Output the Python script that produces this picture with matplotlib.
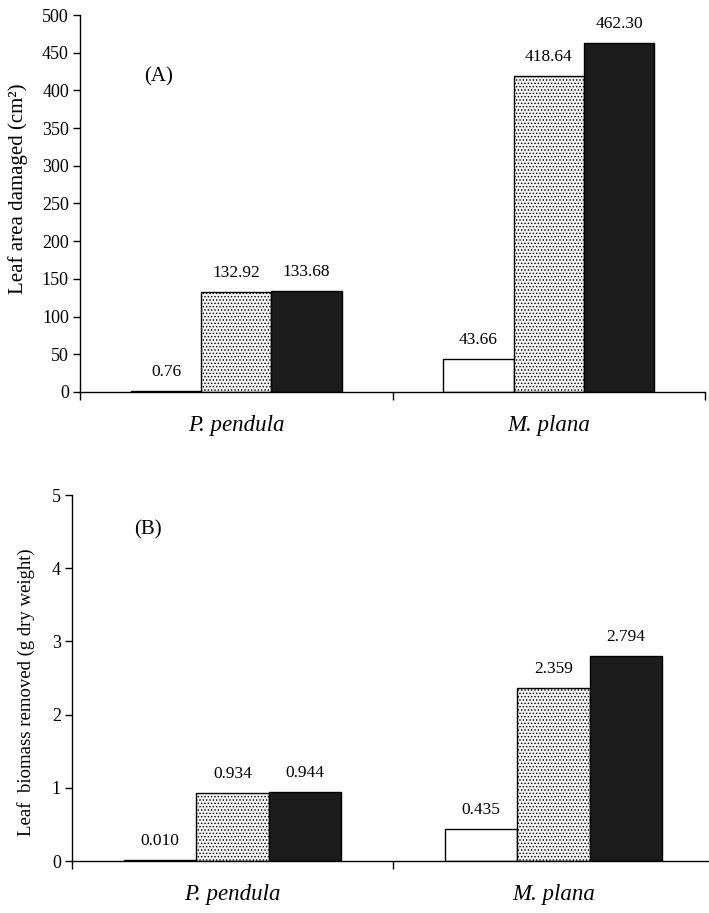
import numpy as np
import matplotlib
matplotlib.use("Agg")
import matplotlib.pyplot as plt
import matplotlib.transforms as mtransforms

plt.rcParams['font.family'] = ['Liberation Serif', 'DejaVu Serif']
plt.rcParams['hatch.color'] = '#6a6a6a'
plt.rcParams['hatch.linewidth'] = 0.6

# data
species = ["P. pendula", "M. plana"]
area_white = [0.76, 43.66]
area_dotted = [132.92, 418.64]
area_black = [133.68, 462.30]
area_labels = [["0.76", "132.92", "133.68"], ["43.66", "418.64", "462.30"]]

biomass_white = [0.010, 0.435]
biomass_dotted = [0.934, 2.359]
biomass_black = [0.944, 2.794]
biomass_labels = [["0.010", "0.934", "0.944"], ["0.435", "2.359", "2.794"]]

W, H = 709, 913
fig = plt.figure(figsize=(W / 100, H / 100), dpi=100)

def px_axes(left, right, top, bottom):
    return fig.add_axes([left / W, 1 - bottom / H, (right - left) / W, (bottom - top) / H])

ax1 = px_axes(80, 705, 15, 392)
ax2 = px_axes(72, 714, 495, 861)

centers = np.array([0.5, 1.5])
bw = 0.225

def draw(ax, white, dotted, black, labels, ymax, yticks, ylabel, lblsize, tag, tagpos, lblx, lbly):
    series = [(white, dict(facecolor='white')),
              (dotted, dict(facecolor='#f2f2f2', hatch='.....')),
              (black, dict(facecolor='#1c1c1c'))]
    for k, (vals, style) in enumerate(series):
        bars = ax.bar(centers + (k - 1) * bw, vals, width=bw, edgecolor='black',
                      linewidth=1.0, zorder=2, **style)
        for i, b in enumerate(bars):
            ax.annotate(labels[i][k], (b.get_x() + b.get_width() / 2, b.get_height()),
                        xytext=(0, 8), textcoords='offset points', ha='center',
                        va='bottom', fontsize=12.5)
    ax.set_xlim(0, 2)
    ax.set_ylim(0, ymax)
    ax.set_yticks(yticks)
    ax.set_xticks([0, 1, 2])
    ax.set_xticklabels([])
    for s in ['top', 'right']:
        ax.spines[s].set_visible(False)
    for s in ['left', 'bottom']:
        ax.spines[s].set_linewidth(1.0)
    ax.tick_params(axis='y', direction='out', length=5, width=1.0, labelsize=13, pad=3)
    ax.tick_params(axis='x', direction='out', length=6, width=1.0)
    ax.set_ylabel(ylabel, fontsize=lblsize)
    ax.yaxis.set_label_coords(lblx, lbly)
    ax.text(tagpos[0], tagpos[1], tag, transform=ax.transAxes, fontsize=15,
            ha='center', va='center')
    # species names under each group
    trans = mtransforms.blended_transform_factory(ax.transData, ax.transAxes)
    trans = trans + mtransforms.ScaledTranslation(0, -0.23, fig.dpi_scale_trans)
    for c, name in zip(centers, species):
        ax.text(c, 0, name, transform=trans, fontsize=16.5, style='italic',
                ha='center', va='top')

draw(ax1, area_white, area_dotted, area_black, area_labels, 500,
     np.arange(0, 501, 50), 'Leaf area damaged (cm²)', 15, '(A)', (0.125, 0.835),
     -0.083, 0.54)
draw(ax2, biomass_white, biomass_dotted, biomass_black, biomass_labels, 5,
     np.arange(0, 6, 1), 'Leaf  biomass removed (g dry weight)', 13.5, '(B)', (0.118, 0.904),
     -0.058, 0.46)

fig.savefig('out.png', dpi=100)
